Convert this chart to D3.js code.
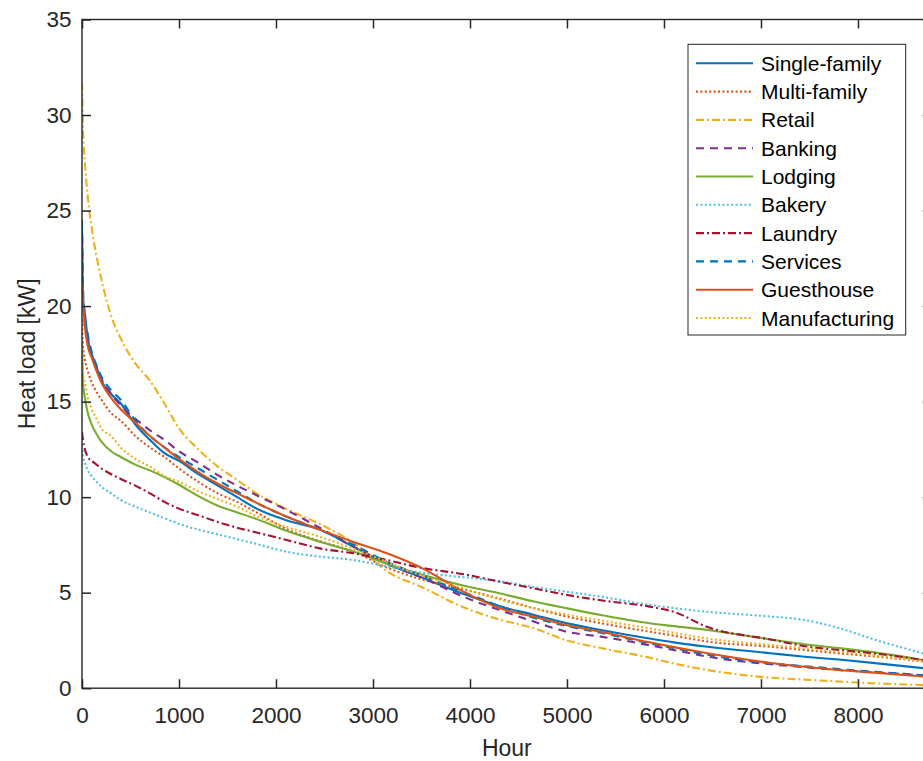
<!DOCTYPE html>
<html>
<head>
<meta charset="utf-8">
<script src="https://cdn.jsdelivr.net/npm/d3@7"></script>
<style>
  html, body { margin: 0; padding: 0; background: #fff; }
  svg { display: block; font-family: "Liberation Sans", Arial, Helvetica, sans-serif; }
</style>
</head>
<body>
<svg id="chart" width="923" height="761"></svg>
<script>
// ---- data (hours of the year, sorted load-duration curves, kW) ----
const hours = [0, 10, 30, 60, 100, 150, 200, 300, 400, 550, 700, 850, 1000, 1200, 1400, 1600, 1800, 2100, 2450, 2800, 3150, 3500, 3950, 4300, 4650, 5000, 5350, 5850, 6100, 6450, 7100, 7450, 7800, 8200, 8760];

const singleFamily  = [24.3, 20.5, 19.6, 18.3, 17.5, 16.8, 16.1, 15.4, 14.9, 13.8, 13.0, 12.3, 11.9, 11.2, 10.6, 10.0, 9.4, 8.8, 8.3, 7.4, 6.5, 5.8, 4.9, 4.3, 3.85, 3.4, 3.05, 2.6, 2.4, 2.17, 1.83, 1.65, 1.5, 1.3, 1.0];
const multiFamily   = [19.3, 18.0, 17.2, 16.6, 16.0, 15.5, 15.1, 14.4, 14.0, 13.2, 12.6, 12.1, 11.5, 10.8, 10.2, 9.75, 9.2, 8.35, 7.7, 7.15, 6.3, 5.7, 5.15, 4.7, 4.2, 3.75, 3.4, 2.96, 2.75, 2.44, 2.17, 2.0, 1.83, 1.65, 1.35];
const retail        = [31.7, 29.4, 27.5, 25.7, 24.1, 22.6, 21.4, 19.5, 18.3, 17.0, 16.1, 14.9, 13.6, 12.5, 11.6, 10.9, 10.2, 9.4, 8.6, 7.6, 6.1, 5.3, 4.2, 3.6, 3.15, 2.5, 2.1, 1.6, 1.3, 0.95, 0.55, 0.45, 0.35, 0.25, 0.15];
const banking       = [23.6, 20.5, 19.0, 18.2, 17.3, 16.8, 16.2, 15.4, 14.8, 14.1, 13.5, 13.0, 12.4, 11.8, 11.15, 10.6, 10.1, 9.35, 8.4, 7.4, 6.5, 5.8, 4.75, 4.1, 3.5, 2.95, 2.7, 2.25, 2.0, 1.65, 1.25, 1.1, 0.95, 0.82, 0.65];
const lodging       = [18.1, 16.0, 15.2, 14.4, 13.8, 13.3, 12.9, 12.4, 12.1, 11.7, 11.4, 11.05, 10.65, 10.05, 9.55, 9.2, 8.85, 8.25, 7.67, 7.15, 6.5, 5.95, 5.35, 4.97, 4.55, 4.18, 3.83, 3.4, 3.25, 3.05, 2.55, 2.3, 2.1, 1.85, 1.4];
const bakery        = [12.7, 12.2, 11.8, 11.4, 11.1, 10.8, 10.55, 10.2, 9.85, 9.5, 9.2, 8.9, 8.6, 8.3, 8.05, 7.8, 7.55, 7.15, 6.89, 6.71, 6.36, 6.05, 5.8, 5.6, 5.3, 5.05, 4.79, 4.36, 4.2, 4.0, 3.75, 3.57, 3.15, 2.5, 1.7];
const laundry       = [13.4, 13.0, 12.5, 12.1, 11.9, 11.7, 11.5, 11.2, 10.95, 10.6, 10.2, 9.75, 9.4, 9.05, 8.7, 8.4, 8.15, 7.77, 7.32, 7.06, 6.7, 6.3, 5.95, 5.58, 5.23, 4.88, 4.6, 4.27, 4.0, 3.2, 2.55, 2.2, 2.0, 1.8, 1.4];
const services      = [24.5, 21.0, 19.5, 18.5, 17.6, 16.9, 16.3, 15.6, 15.1, 14.0, 13.2, 12.6, 12.1, 11.5, 10.9, 10.3, 9.7, 9.0, 8.3, 7.5, 6.6, 5.9, 5.0, 4.3, 3.7, 3.25, 2.9, 2.35, 2.1, 1.75, 1.3, 1.15, 1.0, 0.85, 0.65];
const guesthouse    = [21.2, 20.3, 18.9, 17.9, 17.3, 16.6, 16.0, 15.2, 14.6, 13.9, 13.2, 12.6, 12.0, 11.3, 10.7, 10.2, 9.7, 9.0, 8.3, 7.65, 7.05, 6.3, 5.0, 4.2, 3.75, 3.3, 2.95, 2.4, 2.15, 1.83, 1.32, 1.12, 0.95, 0.8, 0.58];
const manufacturing = [18.2, 16.5, 16.0, 15.2, 14.6, 14.1, 13.6, 13.2, 12.6, 12.0, 11.6, 11.1, 10.8, 10.3, 9.9, 9.5, 9.0, 8.45, 7.93, 7.3, 6.6, 5.9, 5.2, 4.65, 4.2, 3.85, 3.55, 3.13, 2.9, 2.6, 2.26, 2.08, 1.91, 1.7, 1.35];

const seriesNames  = ["Single-family", "Multi-family", "Retail", "Banking", "Lodging", "Bakery", "Laundry", "Services", "Guesthouse", "Manufacturing"];
const seriesValues = [singleFamily, multiFamily, retail, banking, lodging, bakery, laundry, services, guesthouse, manufacturing];
const seriesColors = ["#0072BD", "#D95319", "#EDB120", "#7E2F8E", "#77AC30", "#4DBEEE", "#A2142F", "#0072BD", "#D95319", "#EDB120"];
const seriesDashes = ["none", "2,2.4", "8,3,2,3", "8,6", "none", "2,2.4", "8,3,2,3", "8,6", "none", "2,2.4"];

const xTicks = [0, 1000, 2000, 3000, 4000, 5000, 6000, 7000, 8000];
const yTicks = [0, 5, 10, 15, 20, 25, 30, 35];
const xLabel = "Hour";
const yLabel = "Heat load [kW]";

// ---- layout ----
const pLeft = 82, pRight = 931.7, pTop = 19.5, pBottom = 688.2;
const axisColor = "#262626";

const svg = d3.select("#chart");
const x = d3.scaleLinear().domain([0, 8760]).range([pLeft, pRight]);
const y = d3.scaleLinear().domain([0, 35]).range([pBottom, pTop]);

svg.append("defs").append("clipPath").attr("id", "plotclip")
  .append("rect").attr("x", pLeft).attr("y", pTop).attr("width", pRight - pLeft).attr("height", pBottom - pTop);

// lines
const line = d3.line().x((d, i) => x(hours[i])).y(d => y(d)).curve(d3.curveMonotoneX);
const plot = svg.append("g").attr("clip-path", "url(#plotclip)");
seriesValues.forEach((vals, k) => {
  plot.append("path")
    .datum(vals)
    .attr("d", line)
    .attr("fill", "none")
    .attr("stroke", seriesColors[k])
    .attr("stroke-width", 2.1)
    .attr("stroke-dasharray", seriesDashes[k] === "none" ? null : seriesDashes[k]);
});

// axes (ticks pointing inward, MATLAB style)
const fontTick = 22.5;
const gx = svg.append("g").attr("transform", `translate(0,${pBottom})`)
  .call(d3.axisBottom(x).tickValues(xTicks).tickFormat(d3.format("d")).tickSizeInner(-9).tickSizeOuter(0).tickPadding(19));
const gxTop = svg.append("g").attr("transform", `translate(0,${pTop})`)
  .call(d3.axisTop(x).tickValues(xTicks).tickFormat("").tickSizeInner(-9).tickSizeOuter(0));
const gy = svg.append("g").attr("transform", `translate(${pLeft},0)`)
  .call(d3.axisLeft(y).tickValues(yTicks).tickSizeInner(-9).tickSizeOuter(0).tickPadding(10.5));
const gyR = svg.append("g").attr("transform", `translate(${pRight},0)`)
  .call(d3.axisRight(y).tickValues(yTicks).tickFormat("").tickSizeInner(-9).tickSizeOuter(0));

[gx, gxTop, gy, gyR].forEach(g => {
  g.select(".domain").remove();
  g.selectAll(".tick line").attr("stroke", axisColor).attr("stroke-width", 1.5);
  g.selectAll(".tick text").attr("fill", axisColor).style("font-size", fontTick + "px")
    .style("font-family", '"Liberation Sans", Arial, Helvetica, sans-serif');
});
gx.selectAll(".tick text").attr("dy", "0.72em");

// box
svg.append("rect").attr("x", pLeft).attr("y", pTop).attr("width", pRight - pLeft).attr("height", pBottom - pTop)
  .attr("fill", "none").attr("stroke", axisColor).attr("stroke-width", 1.4);

// axis labels
svg.append("text").attr("x", (pLeft + pRight) / 2).attr("y", 756)
  .attr("text-anchor", "middle").attr("fill", axisColor).style("font-size", "23px").text(xLabel);
svg.append("text").attr("transform", `translate(35,${(pTop + pBottom) / 2}) rotate(-90)`)
  .attr("text-anchor", "middle").attr("fill", axisColor).style("font-size", "23px").text(yLabel);

// legend
const lg = svg.append("g");
lg.append("rect").attr("x", 688).attr("y", 44.3).attr("width", 217.7).attr("height", 290.7)
  .attr("fill", "#fff").attr("stroke", axisColor).attr("stroke-width", 1);
seriesNames.forEach((name, k) => {
  const cy = 63.3 + k * 28.3;
  lg.append("line").attr("x1", 696).attr("x2", 753).attr("y1", cy).attr("y2", cy)
    .attr("stroke", seriesColors[k]).attr("stroke-width", 2.1)
    .attr("stroke-dasharray", seriesDashes[k] === "none" ? null : seriesDashes[k]);
  lg.append("text").attr("x", 761).attr("y", cy).attr("dy", "0.36em")
    .attr("fill", "#000").style("font-size", "21px").text(name);
});
</script>
</body>
</html>
